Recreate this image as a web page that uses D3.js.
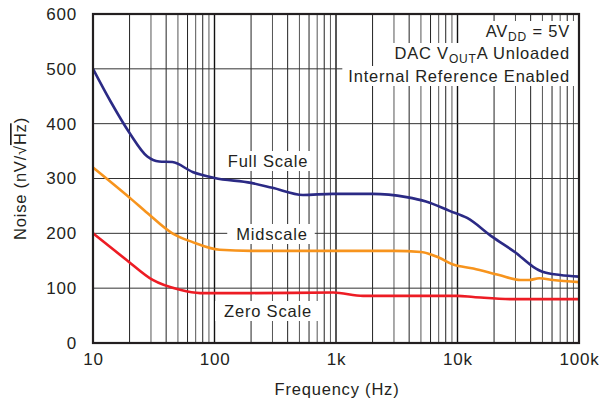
<!DOCTYPE html>
<html>
<head>
<meta charset="utf-8">
<script src="https://cdn.jsdelivr.net/npm/d3@7"></script>
<style>
  body { margin: 0; background: #fff; }
  svg text { font-family: "Liberation Sans", Arial, sans-serif; fill: #231f20; letter-spacing: 0.8px; }
</style>
</head>
<body>
<div id="chart"></div>
<script>
// data (Hz, nV/sqrt(Hz))
var fullFreq  = [10, 14, 20, 28, 35, 45, 66, 100, 200, 300, 535, 940, 2000, 3800, 5500, 8600, 12000, 19500, 30000, 42000, 50000, 70000, 100000];
var fullNoise = [500, 440, 383, 340, 331, 330, 312, 301, 292, 283, 270, 272, 272, 266, 258, 241, 228, 193, 165, 139, 130, 124, 121];

var midFreq  = [10, 21, 28, 45, 66, 110, 200, 1000, 3000, 5000, 7000, 9200, 13500, 22000, 33000, 39000, 47000, 61000, 100000];
var midNoise = [320, 261, 237, 200, 184, 170, 168, 168, 168, 166, 156, 143, 136, 124, 115, 115, 118, 115, 111];

var zeroFreq  = [10, 19, 31, 52, 76, 200, 950, 1670, 10000, 13500, 27000, 100000];
var zeroNoise = [200, 151, 115, 97, 91, 91, 92, 86, 86, 84, 80, 80];

var yTicks = [0, 100, 200, 300, 400, 500, 600];
var xTicks = [10, 100, 1000, 10000, 100000];
var xTickLabels = ["10", "100", "1k", "10k", "100k"];

function Chart(){
    var w = 599, h = 406;
    var left = 93, right = 579, top = 14, bottom = 343;
    var fs = 16.5;

    var svg = d3.select("#chart").append("svg")
        .attr("width", w)
        .attr("height", h);

    var x = d3.scaleLog().domain([10, 100000]).range([left, right]);
    var y = d3.scaleLinear().domain([0, 600]).range([bottom, top]);

    // vertical grid (minor + decades)
    var minor = [];
    for (var d = 10; d < 100000; d *= 10) {
        for (var k = 2; k <= 9; k++) minor.push(d * k);
    }
    svg.append("g").selectAll("line")
        .data(minor).enter().append("line")
        .attr("x1", function(v){ return x(v); })
        .attr("x2", function(v){ return x(v); })
        .attr("y1", top).attr("y2", bottom)
        .attr("stroke", function(v, i){ return (i % 2) ? "#555" : "#222"; })
        .attr("stroke-width", 1);
    svg.append("g").selectAll("line")
        .data(xTicks).enter().append("line")
        .attr("x1", function(v){ return x(v); })
        .attr("x2", function(v){ return x(v); })
        .attr("y1", top).attr("y2", bottom)
        .attr("stroke", "#111")
        .attr("stroke-width", 1.4);

    // horizontal grid
    svg.append("g").selectAll("line")
        .data(yTicks).enter().append("line")
        .attr("x1", left).attr("x2", right)
        .attr("y1", function(v){ return y(v); })
        .attr("y2", function(v){ return y(v); })
        .attr("stroke", "#333")
        .attr("stroke-width", 1);

    // label with white background box
    function label(txt, cx, cy){
        var g = svg.append("g");
        var t = g.append("text")
            .attr("x", cx).attr("y", cy)
            .attr("text-anchor", "middle")
            .attr("font-size", fs)
            .text(txt);
        var b = t.node().getBBox();
        g.insert("rect", "text")
            .attr("x", b.x - 9).attr("y", b.y - 1)
            .attr("width", b.width + 16).attr("height", b.height + 2)
            .attr("fill", "#fff");
    }

    label("Full Scale", 268, 167);
    label("Midscale", 272, 240);
    label("Zero Scale", 268, 317);

    // annotation box, top right
    var ax = right - 9;
    var note = svg.append("g");
    var t1 = note.append("text").attr("x", ax).attr("y", 37).attr("text-anchor", "end").attr("font-size", fs);
    t1.append("tspan").text("AV");
    t1.append("tspan").attr("font-size", 12).attr("dy", 4).text("DD");
    t1.append("tspan").attr("dy", -4).text(" = 5V");
    var t2 = note.append("text").attr("x", ax).attr("y", 59).attr("text-anchor", "end").attr("font-size", fs);
    t2.append("tspan").text("DAC V");
    t2.append("tspan").attr("font-size", 12).attr("dy", 4).text("OUT");
    t2.append("tspan").attr("dy", -4).text("A Unloaded");
    var t3 = note.append("text").attr("x", ax).attr("y", 82).attr("text-anchor", "end").attr("font-size", fs)
        .text("Internal Reference Enabled");
    [t1, t2, t3].forEach(function(t){
        var b = t.node().getBBox();
        note.insert("rect", "text")
            .attr("x", b.x - 6).attr("y", b.y - 1)
            .attr("width", b.width + 14).attr("height", b.height + 2)
            .attr("fill", "#fff");
    });

    // curves
    var line = d3.line()
        .x(function(d){ return x(d[0]); })
        .y(function(d){ return y(d[1]); })
        .curve(d3.curveMonotoneX);

    var series = [
        {f: zeroFreq, n: zeroNoise, c: "#ed1c24"},
        {f: midFreq, n: midNoise, c: "#f7941d"},
        {f: fullFreq, n: fullNoise, c: "#2b2a85"}
    ];
    series.forEach(function(s){
        svg.append("path")
            .datum(d3.zip(s.f, s.n))
            .attr("d", line)
            .attr("fill", "none")
            .attr("stroke", s.c)
            .attr("stroke-width", 2.6);
    });

    // frame
    svg.append("rect")
        .attr("x", left).attr("y", top)
        .attr("width", right - left).attr("height", bottom - top)
        .attr("fill", "none")
        .attr("stroke", "#231f20")
        .attr("stroke-width", 2.2);

    // axes
    var xAxis = d3.axisBottom(x)
        .tickValues(xTicks)
        .tickSize(0)
        .tickPadding(10)
        .tickFormat(function(d, i){ return xTickLabels[i]; });
    var gx = svg.append("g")
        .attr("transform", "translate(0," + bottom + ")")
        .call(xAxis);
    gx.select(".domain").remove();
    gx.selectAll("text").attr("font-size", 17).style("font-family", "Liberation Sans, Arial, sans-serif").attr("fill", "#231f20");

    var yAxis = d3.axisLeft(y)
        .tickValues(yTicks)
        .tickSize(0)
        .tickPadding(16);
    var gy = svg.append("g")
        .attr("transform", "translate(" + left + ",0)")
        .call(yAxis);
    gy.select(".domain").remove();
    gy.selectAll("text").attr("font-size", 17).style("font-family", "Liberation Sans, Arial, sans-serif").attr("fill", "#231f20");

    svg.append("text")
        .attr("x", 337)
        .attr("y", 395)
        .attr("text-anchor", "middle")
        .attr("font-size", fs)
        .text("Frequency (Hz)");

    var yt = svg.append("text")
        .attr("transform", "translate(26," + ((top + bottom) / 2) + ") rotate(-90)")
        .attr("text-anchor", "middle")
        .attr("font-size", fs);
    yt.append("tspan").text("Noise (nV/\u221A");
    yt.append("tspan").style("text-decoration", "overline").text("Hz");
    yt.append("tspan").text(")");
}

window.onload = Chart;
</script>
</body>
</html>
